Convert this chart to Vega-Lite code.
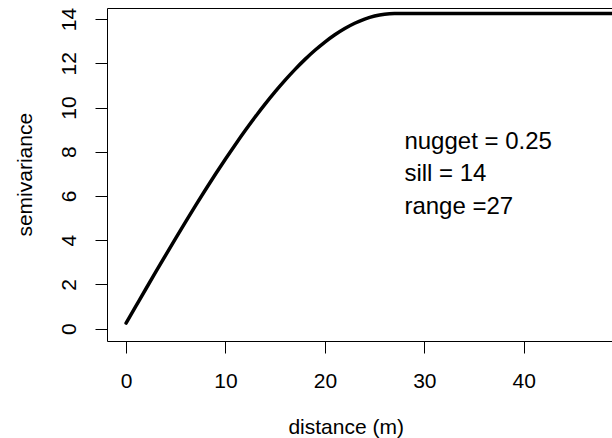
{
  "$schema": "https://vega.github.io/schema/vega-lite/v6.json",
  "width": 536,
  "height": 333,
  "autosize": {"type": "none"},
  "padding": {"left": 107, "top": 8, "right": 0, "bottom": 97},
  "background": "white",
  "config": {
    "view": {"stroke": "black", "strokeWidth": 1},
    "font": "Liberation Sans",
    "axis": {
      "domain": false,
      "grid": false,
      "ticks": true,
      "tickSize": 12,
      "tickColor": "black",
      "tickWidth": 1,
      "labelFont": "Liberation Sans",
      "labelFontSize": 21,
      "labelColor": "black",
      "labelFlush": false,
      "labelOverlap": false,
      "titleFont": "Liberation Sans",
      "titleFontSize": 21,
      "titleFontWeight": "normal",
      "titleColor": "black"
    }
  },
  "layer": [
    {
      "data": {
        "values": [
          {"distance": 0, "semivariance": 0.25},
          {"distance": 1, "semivariance": 1.027},
          {"distance": 2, "semivariance": 1.803},
          {"distance": 3, "semivariance": 2.574},
          {"distance": 4, "semivariance": 3.338},
          {"distance": 5, "semivariance": 4.094},
          {"distance": 6, "semivariance": 4.840},
          {"distance": 7, "semivariance": 5.572},
          {"distance": 8, "semivariance": 6.290},
          {"distance": 9, "semivariance": 6.991},
          {"distance": 10, "semivariance": 7.672},
          {"distance": 11, "semivariance": 8.332},
          {"distance": 12, "semivariance": 8.969},
          {"distance": 13, "semivariance": 9.580},
          {"distance": 14, "semivariance": 10.163},
          {"distance": 15, "semivariance": 10.716},
          {"distance": 16, "semivariance": 11.238},
          {"distance": 17, "semivariance": 11.725},
          {"distance": 18, "semivariance": 12.176},
          {"distance": 19, "semivariance": 12.588},
          {"distance": 20, "semivariance": 12.960},
          {"distance": 21, "semivariance": 13.290},
          {"distance": 22, "semivariance": 13.574},
          {"distance": 23, "semivariance": 13.812},
          {"distance": 24, "semivariance": 14.000},
          {"distance": 25, "semivariance": 14.138},
          {"distance": 26, "semivariance": 14.222},
          {"distance": 27, "semivariance": 14.25},
          {"distance": 28, "semivariance": 14.25},
          {"distance": 50, "semivariance": 14.25}
        ]
      },
      "mark": {"type": "line", "color": "black", "strokeWidth": 3.5, "strokeCap": "round", "strokeJoin": "round", "interpolate": "monotone"},
      "encoding": {
        "x": {
          "field": "distance",
          "type": "quantitative",
          "scale": {"domain": [-1.92, 52], "nice": false, "zero": false},
          "axis": {
            "values": [0, 10, 20, 30, 40],
            "labelPadding": 17,
            "title": "distance (m)",
            "titleX": 238.7,
            "titleY": 92,
            "titleAlign": "center",
            "titleBaseline": "alphabetic"
          }
        },
        "y": {
          "field": "semivariance",
          "type": "quantitative",
          "scale": {"domain": [-0.56, 14.5], "nice": false, "zero": false},
          "axis": {
            "values": [0, 2, 4, 6, 8, 10, 12, 14],
            "labelAngle": -90,
            "labelAlign": "center",
            "labelBaseline": "alphabetic",
            "labelPadding": 20,
            "title": "semivariance",
            "titleAngle": -90,
            "titleX": -75.3,
            "titleY": 166.2,
            "titleAlign": "center",
            "titleBaseline": "alphabetic"
          }
        }
      }
    },
    {
      "data": {
        "values": [
          {"x": 28, "y": 8.14, "label": "nugget = 0.25"},
          {"x": 28, "y": 6.66, "label": "sill = 14"},
          {"x": 28, "y": 5.19, "label": "range =27"}
        ]
      },
      "mark": {"type": "text", "align": "left", "baseline": "alphabetic", "fontSize": 24, "font": "Liberation Sans", "color": "black"},
      "encoding": {
        "x": {"field": "x", "type": "quantitative"},
        "y": {"field": "y", "type": "quantitative"},
        "text": {"field": "label"}
      }
    }
  ]
}
